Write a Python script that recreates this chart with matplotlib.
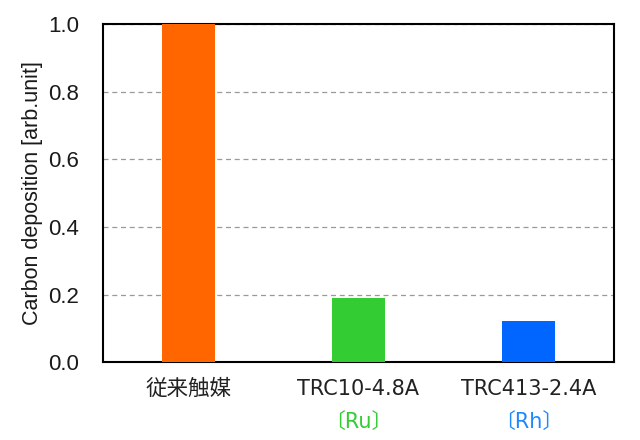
import matplotlib
matplotlib.use("Agg")
import matplotlib.pyplot as plt
from matplotlib.transforms import blended_transform_factory

plt.rcParams['font.family'] = ['DejaVu Sans', 'Noto Sans CJK JP']

categories = ["従来触媒", "TRC10-4.8A", "TRC413-2.4A"]
sublabels = ["", "〔Ru〕", "〔Rh〕"]
values = [1.0, 0.19, 0.122]
bar_colors = ["#FF6600", "#33CC33", "#0066FF"]
sub_colors = ["#000000", "#33CC33", "#1E88FF"]
yticks = [0.0, 0.2, 0.4, 0.6, 0.8, 1.0]

fig = plt.figure(figsize=(6.4, 4.4), dpi=100)
ax = fig.add_axes([0.161, 0.177, 0.798, 0.768])

x = list(range(len(categories)))
ax.bar(x, values, width=0.31, color=bar_colors, zorder=3)
ax.set_xlim(-0.5, 2.5)
ax.set_ylim(0, 1.0)
ax.set_yticks(yticks)
ax.set_yticklabels([f"{v:.1f}" for v in yticks], fontsize=16, color="#1a1a1a",
                   family="Liberation Sans")
ax.set_xticks(x)
ax.set_xticklabels(categories, fontsize=15, color="#222222")
ax.get_xticklabels()[0].set_fontsize(15.5)
ax.tick_params(axis='both', length=0)
ax.tick_params(axis='x', pad=12)
ax.tick_params(axis='y', pad=17)
ax.yaxis.grid(True, linestyle=(0, (4, 3)), color="#999999", linewidth=0.9, zorder=0)
for s in ax.spines.values():
    s.set_linewidth(1.5)
    s.set_color("black")
ax.set_ylabel("Carbon deposition [arb.unit]", fontsize=15.5, labelpad=4, color="#1a1a1a",
              family="Liberation Sans")

trans = blended_transform_factory(ax.transData, fig.transFigure)
for xi, sl, c in zip(x, sublabels, sub_colors):
    if sl:
        ax.text(xi, (440 - 422) / 440, sl, transform=trans, ha='center', va='center',
                fontsize=15, color=c)

fig.savefig("out.png", dpi=100)
